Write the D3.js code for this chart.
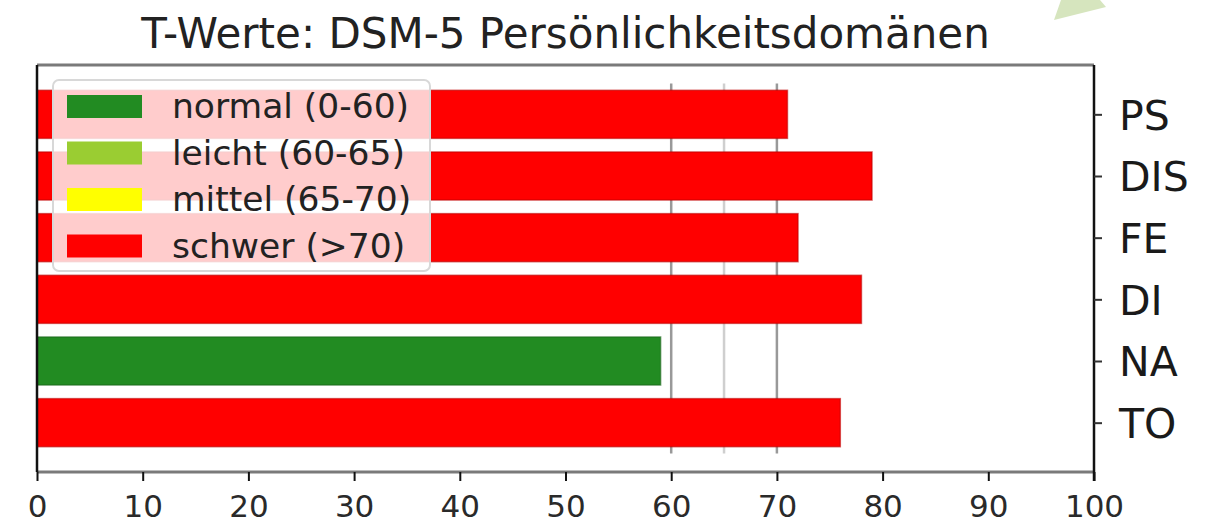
<!DOCTYPE html>
<html>
<head>
<meta charset="utf-8">
<script src="https://cdn.jsdelivr.net/npm/d3@7"></script>
<style>
  body { margin: 0; background: #fff; }
  svg { display: block; font-family: 'DejaVu Sans', sans-serif; }
</style>
</head>
<body>
<svg id="chart"></svg>
<script>
// domains, top to bottom as drawn
const domains = ['PS', 'DIS', 'FE', 'DI', 'NA', 'TO'];
const tValues = [71, 79, 72, 78, 59, 76];

const xTicks = [0, 10, 20, 30, 40, 50, 60, 70, 80, 90, 100];
const cutoffs = [60, 65, 70];

const levelLabels = ['normal (0-60)', 'leicht (60-65)', 'mittel (65-70)', 'schwer (>70)'];
const levelColors = ['#228b22', '#9acd32', '#ffff00', '#ff0000'];

const title = 'T-Werte: DSM-5 Persönlichkeitsdomänen';

class TScoreChart {
  constructor() {
    this.width = 1217;
    this.height = 524;
    this.paddingLeft = 37;
    this.paddingRight = 123;
    this.paddingTop = 65;
    this.paddingBottom = 52;
    this.plotWidth = this.width - this.paddingLeft - this.paddingRight;
    this.plotHeight = this.height - this.paddingTop - this.paddingBottom;
    this.barHeight = 0.78;

    this.canvas = d3.select('#chart')
      .attr('width', this.width)
      .attr('height', this.height);

    this.updateScales();
    this.drawDecoration();
    this.drawCutoffs();
    this.renderBars();
    this.drawAxis();
    this.renderLegend();
  }

  updateScales() {
    this.scaleX = d3.scaleLinear()
      .domain([0, 100])
      .range([this.paddingLeft, this.paddingLeft + this.plotWidth]);
    // bar index 0 = TO (bottom), like matplotlib barh
    this.scaleY = d3.scaleLinear()
      .domain([-0.8, 5.8])
      .range([this.paddingTop + this.plotHeight, this.paddingTop]);
  }

  levelColor(v) {
    if (v > 70) return levelColors[3];
    else if (v > 65) return levelColors[2];
    else if (v > 60) return levelColors[1];
    return levelColors[0];
  }

  drawDecoration() {
    // light green corner shape at the top right of the page
    this.canvas.append('polygon')
      .attr('points', '1054,20 1061,0 1100,0 1106,7')
      .attr('fill', '#d6e5be');

    this.canvas.append('text')
      .attr('x', this.paddingLeft + this.plotWidth / 2)
      .attr('y', 48)
      .attr('text-anchor', 'middle')
      .attr('font-size', 42)
      .attr('fill', '#222')
      .text(title);
  }

  drawCutoffs() {
    const n = domains.length;
    this.canvas.append('g')
      .attr('class', 'cutoffs')
      .selectAll('line')
      .data(cutoffs)
      .enter().append('line')
      .attr('x1', d => this.scaleX(d))
      .attr('x2', d => this.scaleX(d))
      .attr('y1', this.scaleY(n - 0.5))
      .attr('y2', this.scaleY(-0.5))
      .attr('stroke', d => (d === 65 ? '#cfcfcf' : '#999'))
      .attr('stroke-width', 2.5);
  }

  renderBars() {
    const n = domains.length;
    const data = domains.map((name, i) => ({ name, value: tValues[i], pos: n - 1 - i }));
    const bandPx = this.scaleY(0) - this.scaleY(this.barHeight);

    this.canvas.append('g')
      .attr('class', 'bars')
      .selectAll('rect')
      .data(data)
      .enter().append('rect')
      .attr('x', this.scaleX(0))
      .attr('y', d => this.scaleY(d.pos + this.barHeight / 2))
      .attr('width', d => this.scaleX(d.value) - this.scaleX(0))
      .attr('height', bandPx)
      .attr('fill', d => this.levelColor(d.value))
      .attr('stroke', d => d3.color(this.levelColor(d.value)).darker(0.8))
      .attr('stroke-opacity', 0.6)
      .attr('stroke-width', 1.5);

    this.data = data;
  }

  drawAxis() {
    const top = this.paddingTop;
    const bottom = this.paddingTop + this.plotHeight;
    const left = this.paddingLeft;
    const right = this.paddingLeft + this.plotWidth;

    // frame
    const frame = this.canvas.append('g').attr('class', 'frame');
    frame.append('line')
      .attr('x1', left).attr('x2', right).attr('y1', top).attr('y2', top)
      .attr('stroke', '#7a7a7a').attr('stroke-width', 3);
    frame.append('line')
      .attr('x1', left).attr('x2', right).attr('y1', bottom).attr('y2', bottom)
      .attr('stroke', '#7a7a7a').attr('stroke-width', 3);
    frame.append('line')
      .attr('x1', left).attr('x2', left).attr('y1', top).attr('y2', bottom)
      .attr('stroke', '#111').attr('stroke-width', 2.5);

    const xAxis = this.canvas.append('g')
      .attr('class', 'axis')
      .attr('transform', `translate(0, ${bottom})`)
      .call(d3.axisBottom(this.scaleX).tickValues(xTicks).tickSize(9).tickPadding(14));
    xAxis.select('.domain').remove();
    xAxis.selectAll('.tick line').attr('stroke', '#111').attr('stroke-width', 2);
    xAxis.selectAll('.tick text')
      .attr('font-family', "'DejaVu Sans', sans-serif")
      .attr('font-size', 31)
      .attr('fill', '#2a2a2a');

    const yAxis = this.canvas.append('g')
      .attr('class', 'axis')
      .attr('transform', `translate(${right}, 0)`)
      .call(d3.axisRight(this.scaleY)
        .tickValues(this.data.map(d => d.pos))
        .tickFormat(p => this.data.find(d => d.pos === p).name)
        .tickSize(8)
        .tickPadding(17));
    yAxis.select('.domain').remove();
    yAxis.selectAll('.tick line').attr('stroke', '#333').attr('stroke-width', 2);
    yAxis.selectAll('.tick text')
      .attr('font-family', "'DejaVu Sans', sans-serif")
      .attr('font-size', 41)
      .attr('dy', '0.36em')
      .attr('fill', '#1a1a1a');

    frame.append('line')
      .attr('x1', right).attr('x2', right).attr('y1', top).attr('y2', bottom + 9)
      .attr('stroke', '#111').attr('stroke-width', 2.5);
  }

  renderLegend() {
    const legend = this.canvas.append('g')
      .attr('class', 'legend')
      .attr('transform', 'translate(53, 80)');

    legend.append('rect')
      .attr('width', 377)
      .attr('height', 191)
      .attr('rx', 6)
      .attr('fill', '#fff')
      .attr('fill-opacity', 0.8)
      .attr('stroke', '#d8d8d8')
      .attr('stroke-width', 2);

    const item = legend.selectAll('.legend-item')
      .data(levelLabels)
      .enter().append('g')
      .attr('class', 'legend-item')
      .attr('transform', (d, i) => `translate(0, ${26.5 + i * 46.5})`);

    item.append('rect')
      .attr('x', 14)
      .attr('y', -11.5)
      .attr('width', 75)
      .attr('height', 23)
      .attr('fill', (d, i) => levelColors[i]);

    item.append('text')
      .attr('x', 119)
      .attr('y', 11.5)
      .attr('font-size', 34.5)
      .attr('fill', '#222')
      .text(d => d);
  }
}

const chart = new TScoreChart();
</script>
</body>
</html>
